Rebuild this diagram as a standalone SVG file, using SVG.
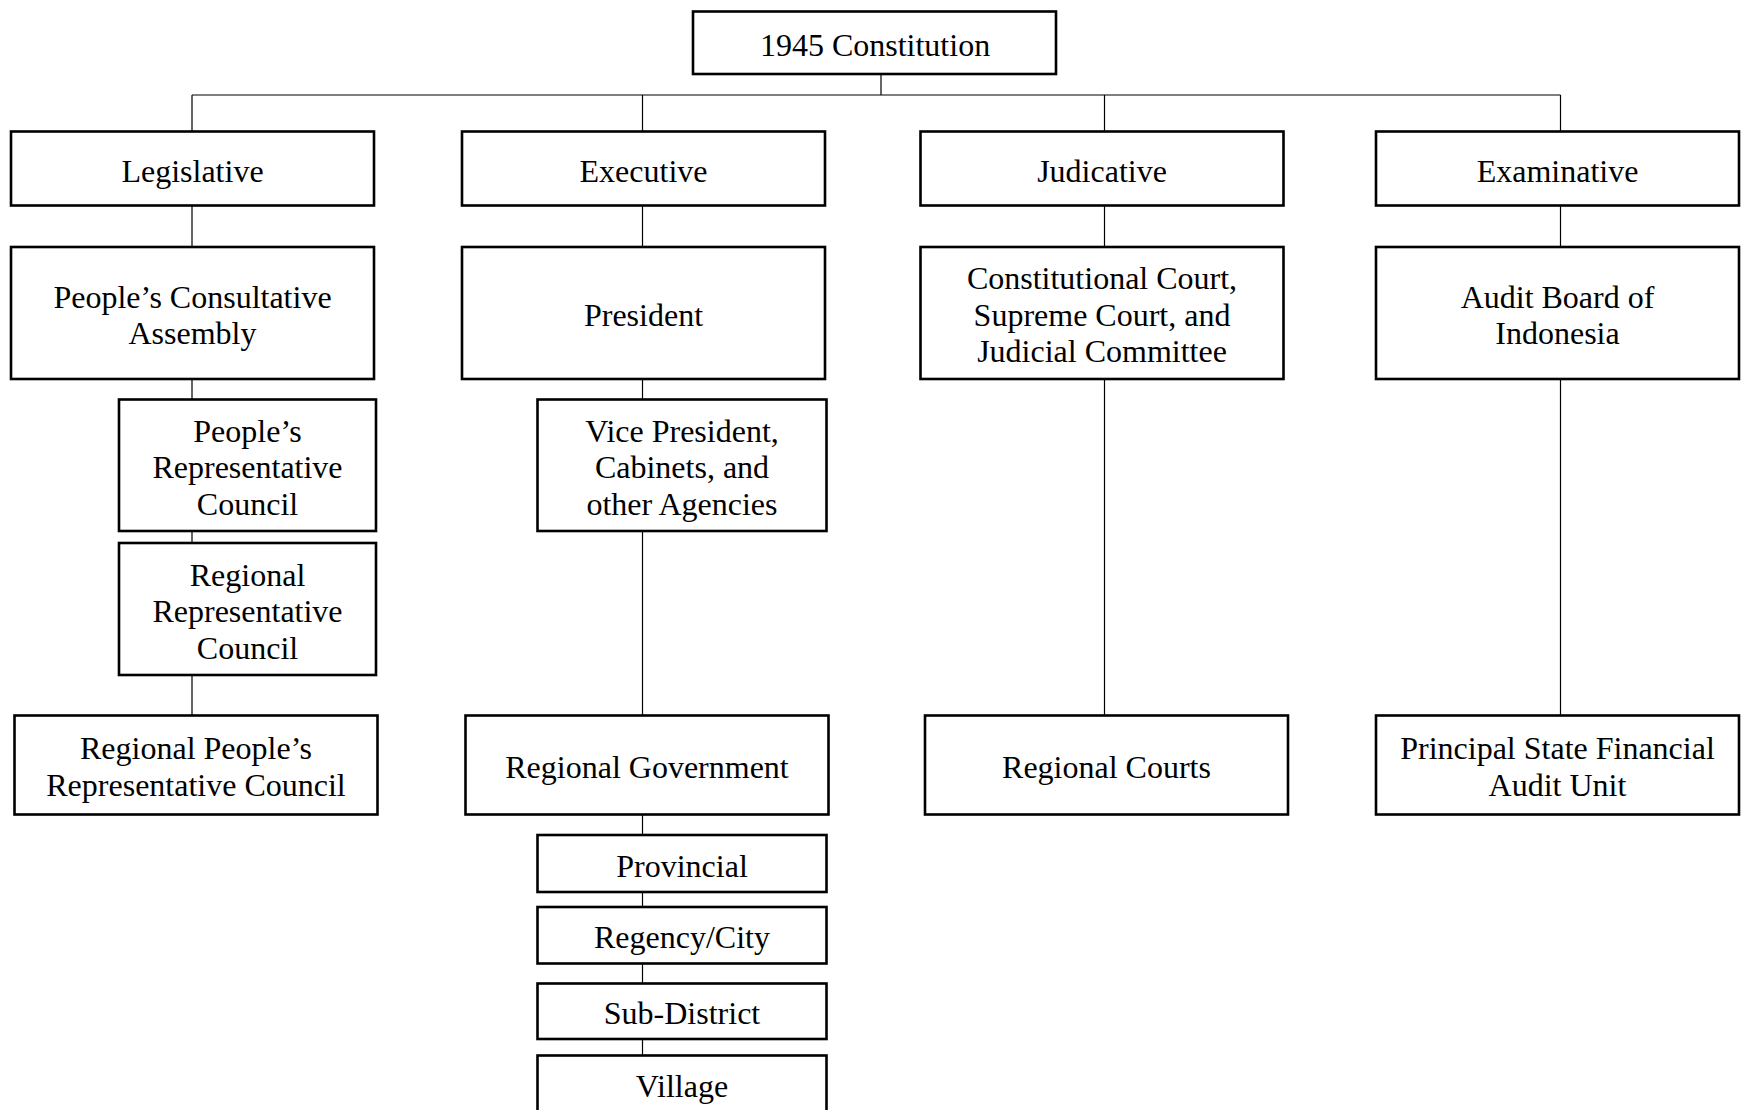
<svg xmlns="http://www.w3.org/2000/svg" width="1741" height="1110" viewBox="0 0 1741 1110">
<style>
.box{fill:#fff;stroke:#000;stroke-width:2.6}
.conn line{stroke:#000;stroke-width:1.2}
text{font-family:"Liberation Serif","Times New Roman",serif;font-size:32px;fill:#000;text-anchor:middle}
</style>
<rect width="1741" height="1110" fill="#fff"/>
<g id="connectors" class="conn">
<line x1="881" y1="74" x2="881" y2="95"/>
<line x1="192" y1="95" x2="1560.5" y2="95"/>
<line x1="192" y1="95" x2="192" y2="131.5"/>
<line x1="642.5" y1="95" x2="642.5" y2="131.5"/>
<line x1="1104.5" y1="95" x2="1104.5" y2="131.5"/>
<line x1="1560.5" y1="95" x2="1560.5" y2="131.5"/>
<line x1="192" y1="205.5" x2="192" y2="247"/>
<line x1="642.5" y1="205.5" x2="642.5" y2="247"/>
<line x1="1104.5" y1="205.5" x2="1104.5" y2="247"/>
<line x1="1560.5" y1="205.5" x2="1560.5" y2="247"/>
<line x1="192" y1="379" x2="192" y2="399.5"/>
<line x1="192" y1="531" x2="192" y2="543"/>
<line x1="192" y1="675" x2="192" y2="715.5"/>
<line x1="642.5" y1="379" x2="642.5" y2="399.5"/>
<line x1="642.5" y1="531" x2="642.5" y2="715.5"/>
<line x1="1104.5" y1="379" x2="1104.5" y2="715.5"/>
<line x1="1560.5" y1="379" x2="1560.5" y2="715.5"/>
<line x1="642.5" y1="814.5" x2="642.5" y2="835"/>
<line x1="642.5" y1="892" x2="642.5" y2="907"/>
<line x1="642.5" y1="963.5" x2="642.5" y2="983.5"/>
<line x1="642.5" y1="1039" x2="642.5" y2="1055.5"/>
</g>
<g id="constitution"><rect class="box" x="693" y="11.5" width="363" height="62.5"/><text x="875" y="55.5">1945 Constitution</text></g>
<g id="legislative"><rect class="box" x="11" y="131.5" width="363" height="74"/><text x="192.5" y="181.5">Legislative</text></g>
<g id="executive"><rect class="box" x="462" y="131.5" width="363" height="74"/><text x="643.5" y="181.5">Executive</text></g>
<g id="judicative"><rect class="box" x="920.5" y="131.5" width="363" height="74"/><text x="1102" y="181.5">Judicative</text></g>
<g id="examinative"><rect class="box" x="1376" y="131.5" width="363" height="74"/><text x="1557.5" y="181.5">Examinative</text></g>
<g id="pca"><rect class="box" x="11" y="247" width="363" height="132"/><text x="192.5" y="307.5">People’s Consultative</text><text x="192.5" y="344">Assembly</text></g>
<g id="president"><rect class="box" x="462" y="247" width="363" height="132"/><text x="643.5" y="325.8">President</text></g>
<g id="courts"><rect class="box" x="920.5" y="247" width="363" height="132"/><text x="1102" y="289.3">Constitutional Court,</text><text x="1102" y="325.8">Supreme Court, and</text><text x="1102" y="362.3">Judicial Committee</text></g>
<g id="audit-board"><rect class="box" x="1376" y="247" width="363" height="132"/><text x="1557.5" y="307.5">Audit Board of</text><text x="1557.5" y="344">Indonesia</text></g>
<g id="prc"><rect class="box" x="119" y="399.5" width="257" height="131.5"/><text x="247.5" y="441.5">People’s</text><text x="247.5" y="478">Representative</text><text x="247.5" y="514.5">Council</text></g>
<g id="rrc"><rect class="box" x="119" y="543" width="257" height="132"/><text x="247.5" y="585.5">Regional</text><text x="247.5" y="622">Representative</text><text x="247.5" y="658.5">Council</text></g>
<g id="vice-president"><rect class="box" x="537.5" y="399.5" width="289" height="131.5"/><text x="682" y="441.5">Vice President,</text><text x="682" y="478">Cabinets, and</text><text x="682" y="514.5">other Agencies</text></g>
<g id="rprc"><rect class="box" x="14.5" y="715.5" width="363" height="99"/><text x="196" y="759.3">Regional People’s</text><text x="196" y="795.8">Representative Council</text></g>
<g id="regional-government"><rect class="box" x="465.5" y="715.5" width="363" height="99"/><text x="647" y="777.5">Regional Government</text></g>
<g id="regional-courts"><rect class="box" x="925" y="715.5" width="363" height="99"/><text x="1106.5" y="777.5">Regional Courts</text></g>
<g id="psfau"><rect class="box" x="1376" y="715.5" width="363" height="99"/><text x="1557.5" y="759.3">Principal State Financial</text><text x="1557.5" y="795.8">Audit Unit</text></g>
<g id="provincial"><rect class="box" x="537.5" y="835" width="289" height="57"/><text x="682" y="876.5">Provincial</text></g>
<g id="regency-city"><rect class="box" x="537.5" y="907" width="289" height="56.5"/><text x="682" y="948">Regency/City</text></g>
<g id="sub-district"><rect class="box" x="537.5" y="983.5" width="289" height="55.5"/><text x="682" y="1024">Sub-District</text></g>
<g id="village"><rect class="box" x="537.5" y="1055.5" width="289" height="57"/><text x="682" y="1097">Village</text></g>
</svg>
